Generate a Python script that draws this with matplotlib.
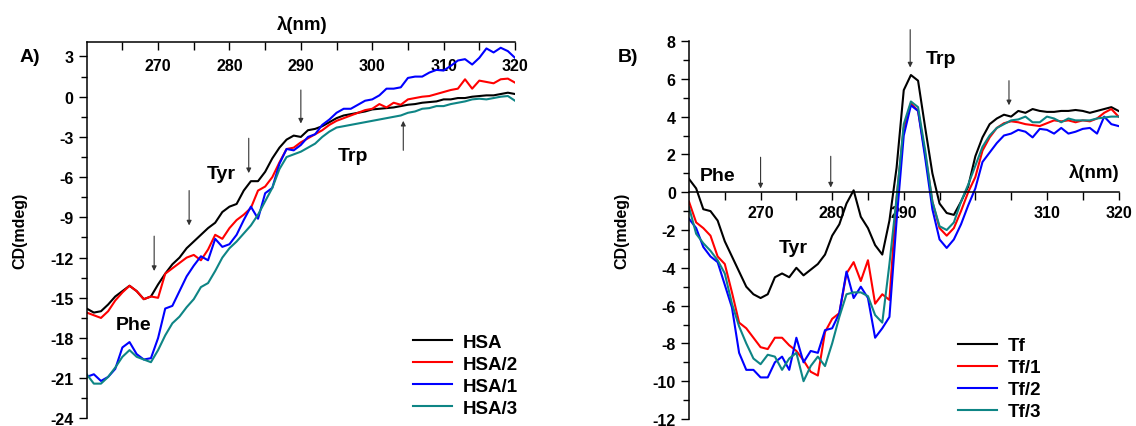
import numpy as np
import matplotlib
matplotlib.use("Agg")
import matplotlib.pyplot as plt
from matplotlib.ticker import MultipleLocator, FixedLocator

plt.rcParams['font.family'] = ['Liberation Sans', 'DejaVu Sans']
plt.rcParams['font.weight'] = 'bold'
plt.rcParams['axes.unicode_minus'] = False

# --- data: wavelength (nm) and CD (mdeg) ---
wl = np.arange(260, 321)

hsa = [-15.8, -16.1, -16.0, -15.5, -14.9, -14.5, -14.1, -14.5, -15.1, -14.9,
       -14.0, -13.2, -12.5, -12.0, -11.3, -10.8, -10.3, -9.8, -9.4, -8.6,
       -8.2, -8.0, -7.0, -6.3, -6.3, -5.6, -4.6, -3.8, -3.2, -2.9,
       -3.0, -2.5, -2.4, -2.2, -1.9, -1.6, -1.4, -1.3, -1.2, -1.1,
       -0.95, -0.9, -0.85, -0.8, -0.7, -0.6, -0.55, -0.45, -0.4, -0.35,
       -0.2, -0.2, -0.1, -0.1, 0.0, 0.05, 0.1, 0.1, 0.2, 0.3, 0.2]
hsa_2 = [-16.1, -16.3, -16.5, -16.0, -15.2, -14.6, -14.1, -14.5, -15.1, -14.9,
         -15.0, -13.2, -12.8, -12.4, -12.0, -11.8, -12.2, -11.4, -10.3, -10.6,
         -9.8, -9.2, -8.8, -8.3, -7.0, -6.7, -6.0, -4.9, -3.9, -3.8,
         -3.4, -3.1, -2.8, -2.5, -2.1, -1.8, -1.6, -1.4, -1.2, -1.0,
         -0.9, -0.55, -0.8, -0.45, -0.6, -0.2, -0.1, 0.0, 0.05, 0.2,
         0.35, 0.5, 0.6, 1.3, 0.6, 1.2, 1.1, 1.0, 1.3, 1.35, 1.05]
hsa_1 = [-20.9, -20.7, -21.2, -20.9, -20.3, -18.7, -18.3, -19.2, -19.6, -19.5,
         -18.0, -15.8, -15.6, -14.5, -13.4, -12.6, -11.9, -12.2, -10.6, -11.2,
         -11.0, -10.3, -9.2, -8.2, -9.1, -7.2, -6.8, -5.0, -3.9, -4.0,
         -3.6, -3.0, -2.8, -2.1, -1.7, -1.2, -0.9, -0.9, -0.6, -0.3,
         -0.2, 0.1, 0.6, 0.6, 0.7, 1.4, 1.5, 1.5, 1.8, 2.0,
         1.95, 2.3, 2.7, 2.8, 2.4, 2.9, 3.6, 3.3, 3.65, 3.4, 2.9]
hsa_3 = [-20.7, -21.4, -21.4, -20.9, -20.2, -19.4, -18.9, -19.4, -19.6, -19.8,
         -18.9, -17.8, -16.9, -16.4, -15.7, -15.1, -14.2, -13.9, -13.0, -12.0,
         -11.3, -10.8, -10.2, -9.6, -8.8, -7.8, -6.8, -5.4, -4.5, -4.3,
         -4.1, -3.8, -3.5, -3.0, -2.6, -2.3, -2.2, -2.1, -2.0, -1.9,
         -1.8, -1.7, -1.6, -1.5, -1.4, -1.2, -1.1, -0.9, -0.85, -0.7,
         -0.7, -0.55, -0.45, -0.35, -0.2, -0.15, -0.2, -0.1, 0.0, 0.05, -0.3]

tf = [0.7, 0.2, -0.9, -1.0, -1.5, -2.6, -3.4, -4.2, -5.0, -5.4,
      -5.6, -5.4, -4.5, -4.3, -4.5, -4.0, -4.4, -4.1, -3.8, -3.3,
      -2.3, -1.7, -0.6, 0.1, -1.3, -1.9, -2.8, -3.3, -1.5, 1.3,
      5.4, 6.2, 5.9, 3.4, 1.0, -0.6, -1.1, -1.2, -0.5, 0.3,
      1.9, 2.9, 3.6, 3.9, 4.1, 4.0, 4.3, 4.2, 4.4, 4.3,
      4.25, 4.25, 4.3, 4.3, 4.35, 4.3, 4.2, 4.3, 4.4, 4.5, 4.3]
tf_1 = [-0.5, -1.6, -1.9, -2.3, -3.4, -3.8, -5.3, -6.9, -7.2, -7.7,
        -8.2, -8.3, -7.7, -7.7, -8.1, -8.4, -8.9, -9.5, -9.7, -7.4,
        -6.7, -6.4, -4.3, -3.7, -4.7, -3.6, -5.9, -5.4, -5.7, -0.3,
        3.4, 4.7, 4.3, 2.0, -0.5, -1.9, -2.3, -1.9, -1.0, 0.0,
        0.8, 2.2, 2.9, 3.4, 3.65, 3.75, 3.7, 3.6, 3.55, 3.5,
        3.65, 3.8, 3.75, 3.8, 3.7, 3.8, 3.75, 3.9, 4.2, 4.4, 4.0]
tf_2 = [-1.4, -1.9, -2.9, -3.4, -3.7, -4.9, -6.1, -8.5, -9.4, -9.4,
        -9.8, -9.8, -9.0, -8.7, -9.4, -7.7, -9.0, -8.4, -8.5, -7.3,
        -7.2, -6.4, -4.2, -5.6, -5.0, -5.6, -7.7, -7.2, -6.6, -1.5,
        3.0, 4.6, 4.3, 1.8, -0.9, -2.5, -2.95, -2.5, -1.7, -0.7,
        0.2, 1.6, 2.1, 2.6, 3.0, 3.1, 3.3, 3.2, 2.9, 3.35,
        3.3, 3.1, 3.4, 3.1, 3.2, 3.35, 3.4, 3.1, 4.0, 3.6, 3.5]
tf_3 = [-0.8, -2.2, -2.7, -3.1, -3.6, -4.3, -5.9, -7.1, -8.0, -8.8,
        -9.1, -8.6, -8.7, -9.4, -8.8, -8.5, -10.0, -9.2, -8.7, -9.2,
        -8.0, -6.6, -5.4, -5.3, -5.3, -5.5, -6.5, -6.9, -3.8, -0.3,
        3.6, 4.8, 4.5, 2.2, -0.5, -1.8, -2.0, -1.6, -0.5, 0.4,
        1.4, 2.4, 3.0, 3.4, 3.6, 3.8, 3.85, 4.0, 3.7, 3.7,
        4.0, 3.9, 3.7, 3.9, 3.8, 3.8, 3.8, 3.9, 3.95, 4.0, 4.0]

hsa_names = ["HSA", "HSA/2", "HSA/1", "HSA/3"]
tf_names = ["Tf", "Tf/1", "Tf/2", "Tf/3"]
colors = ["#000000", "#ff0000", "#0000ff", "#0e8585"]

W, H = 1136, 427
fig = plt.figure(figsize=(W / 100, H / 100), dpi=100)

def px_box(x0, x1, ytop, ybot):
    return [x0 / W, 1 - ybot / H, (x1 - x0) / W, (ybot - ytop) / H]

tick_fs = 11.5
lab_fs = 11.5
ann_fs = 14

def arrow(ax, x, y0, y1):
    ax.annotate('', xy=(x, y1), xytext=(x, y0),
                arrowprops=dict(arrowstyle='-|>', color='#333333', lw=0.8,
                                mutation_scale=7, shrinkA=0, shrinkB=0),
                annotation_clip=False)

# ---------------- panel A ----------------
axA = fig.add_axes(px_box(86.7, 515, 43, 419.5))
for y, name, c in zip([hsa, hsa_2, hsa_1, hsa_3], hsa_names, colors):
    axA.plot(wl, y, color=c, lw=1.5, label=name)
axA.set_xlim(260, 320)
axA.set_ylim(-24, 4.08)
for s in ['right', 'bottom']:
    axA.spines[s].set_visible(False)
for s in ['left', 'top']:
    axA.spines[s].set_linewidth(1.1)
axA.xaxis.set_ticks_position('top')
axA.xaxis.set_major_locator(FixedLocator([270, 280, 290, 300, 310, 320]))
axA.xaxis.set_minor_locator(FixedLocator([265, 275, 285, 295, 305, 315]))
axA.tick_params(axis='x', which='both', direction='in', length=6, width=1,
                pad=-22, labelsize=tick_fs)
axA.yaxis.set_major_locator(MultipleLocator(3))
axA.yaxis.set_minor_locator(MultipleLocator(1.5))
axA.tick_params(axis='y', which='major', direction='out', length=6, width=1,
                labelsize=tick_fs)
axA.tick_params(axis='y', which='minor', direction='out', length=4, width=1)
for lbl in axA.get_xticklabels() + axA.get_yticklabels():
    lbl.set_fontweight('bold')

axA.text(290.25, 5.4, "λ(nm)", fontsize=13.5, fontweight='bold',
         ha='center', va='center', clip_on=False)
axA.text(266.5, -17.0, "Phe", fontsize=ann_fs, fontweight='bold', ha='center', va='center')
axA.text(278.85, -5.7, "Tyr", fontsize=ann_fs, fontweight='bold', ha='center', va='center')
axA.text(297.25, -4.4, "Trp", fontsize=ann_fs, fontweight='bold', ha='center', va='center')
arrow(axA, 290.0, 0.5, -2.0)
arrow(axA, 282.7, -3.1, -5.7)
arrow(axA, 274.35, -7.0, -9.6)
arrow(axA, 269.45, -10.4, -13.0)
arrow(axA, 304.35, -4.0, -1.8)

axA.legend(loc='upper left', bbox_to_anchor=(413 / W, 1 - 334.5 / H),
           bbox_transform=fig.transFigure, frameon=False, borderpad=0,
           borderaxespad=0, handlelength=2.1, handletextpad=0.55,
           labelspacing=0.26, prop={'size': 13.5, 'weight': 'bold'})

fig.text(30 / W, 1 - 58 / H, "A)", fontsize=14, fontweight='bold', ha='center', va='center')
fig.text(20 / W, 1 - 231 / H, "CD(mdeg)", fontsize=lab_fs, fontweight='bold',
         rotation=90, ha='center', va='center')

# ---------------- panel B ----------------
axB = fig.add_axes(px_box(689, 1118.5, 42, 420))
for y, name, c in zip([tf, tf_1, tf_2, tf_3], tf_names, colors):
    axB.plot(wl, y, color=c, lw=1.5, label=name)
axB.set_xlim(260, 320)
axB.set_ylim(-12, 8)
for s in ['right', 'top']:
    axB.spines[s].set_visible(False)
axB.spines['bottom'].set_position(('data', 0))
for s in ['left', 'bottom']:
    axB.spines[s].set_linewidth(1.1)
axB.xaxis.set_major_locator(FixedLocator([270, 280, 290, 300, 310, 320]))
axB.xaxis.set_minor_locator(FixedLocator([265, 275, 285, 295, 305, 315]))
axB.set_xticklabels(["270", "280", "290", "", "310", "320"])
axB.tick_params(axis='x', which='both', direction='out', length=6, width=1,
                labelsize=tick_fs)
axB.yaxis.set_major_locator(MultipleLocator(2))
axB.yaxis.set_minor_locator(MultipleLocator(1))
axB.tick_params(axis='y', which='major', direction='out', length=6, width=1,
                labelsize=tick_fs)
axB.tick_params(axis='y', which='minor', direction='out', length=4, width=1)
for lbl in axB.get_xticklabels() + axB.get_yticklabels():
    lbl.set_fontweight('bold')

axB.text(320.2, 1.05, "λ(nm)", fontsize=13.5, fontweight='bold', ha='right', va='center')
axB.text(264.0, 0.91, "Phe", fontsize=ann_fs, fontweight='bold', ha='center', va='center')
axB.text(274.5, -2.9, "Tyr", fontsize=ann_fs, fontweight='bold', ha='center', va='center')
axB.text(295.2, 7.05, "Trp", fontsize=ann_fs, fontweight='bold', ha='center', va='center')
arrow(axB, 270.0, 1.85, 0.2)
arrow(axB, 279.8, 1.9, 0.25)
arrow(axB, 290.9, 8.6, 6.6)
arrow(axB, 304.7, 5.9, 4.6)

axB.legend(loc='upper left', bbox_to_anchor=(958 / W, 1 - 338 / H),
           bbox_transform=fig.transFigure, frameon=False, borderpad=0,
           borderaxespad=0, handlelength=2.1, handletextpad=0.55,
           labelspacing=0.26, prop={'size': 13.5, 'weight': 'bold'})

fig.text(628 / W, 1 - 57 / H, "B)", fontsize=14, fontweight='bold', ha='center', va='center')
fig.text(622 / W, 1 - 231 / H, "CD(mdeg)", fontsize=lab_fs, fontweight='bold',
         rotation=90, ha='center', va='center')

fig.savefig("out.png", dpi=100)
